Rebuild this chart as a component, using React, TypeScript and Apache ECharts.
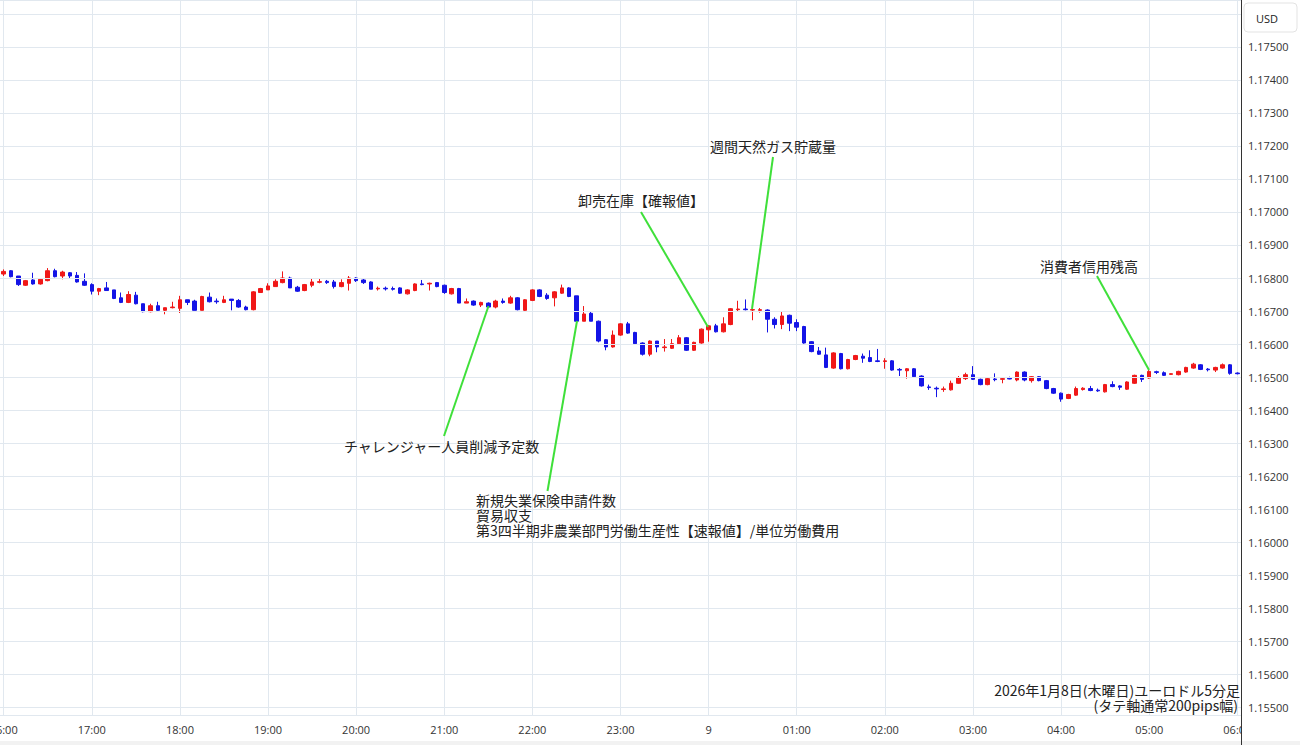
import React, { useEffect, useRef } from "react";
import * as echarts from "echarts";

// 5-minute candles from 16:00 to 06:00 (2026-01-08 EUR/USD)
const openValues = [
  1.16812, 1.16822, 1.16806, 1.16778, 1.16794, 1.16782, 1.16792, 1.16822, 1.16806, 1.16816, 1.16808, 1.1679,
  1.1678, 1.1676, 1.1677, 1.16764, 1.1674, 1.16726, 1.16748, 1.16722, 1.16698, 1.16716, 1.16702, 1.1671,
  1.16708, 1.16734, 1.1673, 1.16702, 1.16742, 1.1673, 1.16726, 1.16736, 1.16732, 1.16712, 1.16704, 1.16756,
  1.16764, 1.16774, 1.16786, 1.168, 1.16772, 1.16762, 1.16778, 1.16787, 1.1679, 1.16788, 1.16774, 1.16784,
  1.168, 1.16794, 1.16788, 1.16767, 1.16769, 1.16768, 1.1677, 1.16752, 1.16762, 1.16782, 1.16782, 1.16786,
  1.16778, 1.16752, 1.16768, 1.16724, 1.1673, 1.16718, 1.16724, 1.16712, 1.1673, 1.16724, 1.1674, 1.16702,
  1.16732, 1.16764, 1.16748, 1.1674, 1.16754, 1.1677, 1.16746, 1.16669, 1.16693, 1.16669, 1.16613, 1.16591,
  1.16627, 1.16661, 1.16635, 1.16603, 1.16569, 1.16609, 1.16589, 1.16587, 1.16601, 1.16619, 1.16581, 1.16603,
  1.16643, 1.16655, 1.16637, 1.16659, 1.16704, 1.16706, 1.16703, 1.16702, 1.16703, 1.16675, 1.16659, 1.16687,
  1.16665, 1.16653, 1.16607, 1.16579, 1.16567, 1.16527, 1.16571, 1.16525, 1.16553, 1.16563, 1.16559, 1.16549,
  1.16547, 1.16549, 1.16523, 1.16519, 1.16525, 1.16503, 1.1647, 1.16466, 1.16462, 1.16461, 1.16481, 1.16495,
  1.16507, 1.16493, 1.16477, 1.16494, 1.16493, 1.16496, 1.16491, 1.16515, 1.16489, 1.16501, 1.16489, 1.16465,
  1.16451, 1.16435, 1.16445, 1.16462, 1.16465, 1.1646, 1.16455, 1.16477, 1.16473, 1.16463, 1.16481, 1.16505,
  1.16497, 1.16516, 1.16513, 1.16508, 1.16507, 1.16515, 1.16527, 1.16537, 1.16524, 1.16521, 1.16527, 1.16537,
  1.16512,
];
const closeValues = [
  1.1682, 1.16804, 1.1678, 1.16792, 1.16782, 1.16796, 1.16822, 1.16804, 1.16818, 1.16806, 1.16788, 1.16778,
  1.1676, 1.16768, 1.16762, 1.16738, 1.16726, 1.1675, 1.16722, 1.16698, 1.16716, 1.16702, 1.1671, 1.16712,
  1.16734, 1.16726, 1.16702, 1.16744, 1.16728, 1.16728, 1.16734, 1.16732, 1.16712, 1.16704, 1.16758, 1.16768,
  1.16776, 1.1679, 1.168, 1.1677, 1.1676, 1.1678, 1.16788, 1.16789, 1.16786, 1.16774, 1.16786, 1.168,
  1.16792, 1.16786, 1.16766, 1.16769, 1.16767, 1.16766, 1.16754, 1.16764, 1.16782, 1.1678, 1.16784, 1.16774,
  1.16756, 1.16768, 1.16724, 1.16728, 1.16718, 1.16726, 1.16712, 1.1673, 1.16726, 1.1674, 1.16704, 1.16734,
  1.16764, 1.16744, 1.16738, 1.16758, 1.1677, 1.16744, 1.16669, 1.16691, 1.16669, 1.16609, 1.16591, 1.16627,
  1.16661, 1.16633, 1.16601, 1.16569, 1.16609, 1.16591, 1.16591, 1.16601, 1.16619, 1.16581, 1.16605, 1.16645,
  1.16655, 1.16637, 1.16661, 1.16707, 1.16706, 1.16704, 1.16704, 1.16704, 1.16675, 1.16659, 1.16685, 1.16663,
  1.16651, 1.16603, 1.16577, 1.16569, 1.16529, 1.16573, 1.16525, 1.16553, 1.16565, 1.16557, 1.16547, 1.16547,
  1.16549, 1.16521, 1.16521, 1.16525, 1.16501, 1.16473, 1.16468, 1.16464, 1.16464, 1.16481, 1.16497, 1.16507,
  1.16493, 1.16477, 1.16495, 1.16492, 1.16495, 1.16494, 1.16515, 1.16491, 1.16501, 1.16489, 1.16465, 1.16451,
  1.16433, 1.16447, 1.16465, 1.16466, 1.16459, 1.16458, 1.16477, 1.16471, 1.16469, 1.16485, 1.16505, 1.16493,
  1.16517, 1.16514, 1.16505, 1.1651, 1.16517, 1.16529, 1.16539, 1.16523, 1.16522, 1.16529, 1.16537, 1.16511,
  1.1651,
];
const lowValues = [
  1.16806, 1.16802, 1.16776, 1.16776, 1.1678, 1.1678, 1.1679, 1.16802, 1.16796, 1.168, 1.16786, 1.16776,
  1.1675, 1.16748, 1.16762, 1.16736, 1.16724, 1.16724, 1.1672, 1.16696, 1.16696, 1.16698, 1.1669, 1.16708,
  1.16694, 1.16718, 1.16702, 1.16702, 1.16726, 1.16722, 1.16724, 1.16702, 1.1671, 1.16702, 1.16702, 1.16756,
  1.16764, 1.16774, 1.16784, 1.1677, 1.16758, 1.1676, 1.16772, 1.16784, 1.16782, 1.16768, 1.16772, 1.16762,
  1.16788, 1.16782, 1.16766, 1.16762, 1.16762, 1.16762, 1.16752, 1.1675, 1.1676, 1.16778, 1.16762, 1.16772,
  1.16752, 1.1675, 1.16724, 1.16724, 1.16716, 1.16712, 1.16712, 1.16708, 1.16722, 1.16722, 1.16702, 1.16698,
  1.1673, 1.16742, 1.16734, 1.16714, 1.16752, 1.16742, 1.16669, 1.16669, 1.16669, 1.16605, 1.16581, 1.16589,
  1.16625, 1.16631, 1.16599, 1.16565, 1.16563, 1.16575, 1.16577, 1.16585, 1.16599, 1.16579, 1.16579, 1.16601,
  1.16607, 1.16635, 1.16635, 1.16657, 1.16697, 1.16702, 1.16672, 1.16695, 1.16635, 1.16647, 1.16645, 1.16639,
  1.16639, 1.16601, 1.16575, 1.16567, 1.16527, 1.16525, 1.16523, 1.16523, 1.16551, 1.16543, 1.16545, 1.16545,
  1.16525, 1.16519, 1.16503, 1.16495, 1.16499, 1.16471, 1.16461, 1.16439, 1.16455, 1.16459, 1.16479, 1.16491,
  1.16491, 1.16475, 1.16475, 1.16487, 1.16481, 1.16493, 1.16487, 1.16487, 1.16483, 1.16487, 1.16463, 1.16449,
  1.16425, 1.16433, 1.16443, 1.16459, 1.16457, 1.16455, 1.16453, 1.16469, 1.16461, 1.16461, 1.16479, 1.16485,
  1.16495, 1.16509, 1.16503, 1.16507, 1.16505, 1.16513, 1.16525, 1.16521, 1.16517, 1.16515, 1.16525, 1.16507,
  1.16508,
];
const highValues = [
  1.16826, 1.16824, 1.16806, 1.16794, 1.16816, 1.168, 1.1683, 1.16828, 1.16822, 1.16818, 1.16818, 1.16814,
  1.16784, 1.1677, 1.16788, 1.16764, 1.16756, 1.1676, 1.16758, 1.16722, 1.16722, 1.16728, 1.1671, 1.16728,
  1.16746, 1.16734, 1.16734, 1.16746, 1.16756, 1.16738, 1.16746, 1.16736, 1.16736, 1.16716, 1.1676, 1.1677,
  1.16784, 1.16796, 1.1682, 1.16804, 1.16776, 1.16782, 1.16798, 1.16798, 1.16794, 1.16794, 1.16796, 1.16806,
  1.16802, 1.16798, 1.1679, 1.16774, 1.16774, 1.16774, 1.16772, 1.16766, 1.16784, 1.16794, 1.16786, 1.16788,
  1.1678, 1.1677, 1.1677, 1.16738, 1.16732, 1.16728, 1.16726, 1.16734, 1.16738, 1.16746, 1.16742, 1.16736,
  1.16766, 1.16766, 1.16754, 1.1676, 1.1678, 1.16772, 1.16746, 1.16715, 1.16697, 1.16671, 1.16615, 1.16641,
  1.16663, 1.16667, 1.16637, 1.16605, 1.16611, 1.16609, 1.16615, 1.16615, 1.16627, 1.16621, 1.16607, 1.16647,
  1.16657, 1.16661, 1.16681, 1.16709, 1.16731, 1.16735, 1.16708, 1.16709, 1.16705, 1.16681, 1.16699, 1.16689,
  1.16675, 1.16655, 1.16609, 1.16591, 1.16589, 1.16575, 1.16573, 1.16555, 1.16567, 1.16571, 1.16581, 1.16585,
  1.16557, 1.16551, 1.16527, 1.16527, 1.16527, 1.16505, 1.16477, 1.16471, 1.16471, 1.16489, 1.16503, 1.16513,
  1.16533, 1.16495, 1.16497, 1.16511, 1.16497, 1.16501, 1.16517, 1.16517, 1.16503, 1.16503, 1.16491, 1.16467,
  1.16453, 1.16449, 1.16471, 1.16469, 1.16473, 1.16465, 1.16479, 1.16487, 1.16475, 1.16487, 1.16507, 1.16507,
  1.16523, 1.16519, 1.16517, 1.16511, 1.16519, 1.16531, 1.16543, 1.16539, 1.16527, 1.16531, 1.16541, 1.16539,
  1.16514,
];

const hourLabels = [
  "16:00", "17:00", "18:00", "19:00", "20:00", "21:00", "22:00", "23:00",
  "00:00", "01:00", "02:00", "03:00", "04:00", "05:00", "06:00",
];
const startHour = 16;
const candleMinutes = 5;

const yMin = 1.154758;
const yMax = 1.176424;
const yLabelMin = 1.155;
const yLabelMax = 1.175;

const titleLine1 = "2026年1月8日(木曜日)ユーロドル5分足";
const titleLine2 = "(タテ軸通常200pips幅)";

const RED = "#f01818";
const BLUE = "#1414e6";
const GREEN = "#3fe03a";
const GRID = "#e1e8ef";
const JP_FONT = '"Noto Sans CJK JP", "Noto Sans", sans-serif';

function buildCategories(n: number): string[] {
  const out: string[] = [];
  for (let i = 0; i < n; i++) {
    const total = startHour * 60 + i * candleMinutes;
    const h = Math.floor(total / 60) % 24;
    const m = total % 60;
    out.push(String(h).padStart(2, "0") + ":" + String(m).padStart(2, "0"));
  }
  return out;
}

export default function App() {
  const ref = useRef<HTMLDivElement>(null);

  useEffect(() => {
    if (!ref.current) return;
    const chart = echarts.init(ref.current, undefined, { renderer: "svg" });
    const categories = buildCategories(openValues.length);
    const candles = openValues.map((o, i) => [o, closeValues[i], lowValues[i], highValues[i]]);
    const isHour = (_idx: number, value: string) => hourLabels.indexOf(value) >= 0;

    const ann = (text: string, x: number, y: number, align: string = "left") => ({
      type: "text",
      x,
      y,
      z: 50,
      style: {
        text,
        fill: "#222",
        font: `14px ${JP_FONT}`,
        textAlign: align,
        textVerticalAlign: "middle",
        lineHeight: 15,
      },
    });
    const gline = (x1: number, y1: number, x2: number, y2: number) => ({
      type: "line",
      z: 40,
      shape: { x1, y1, x2, y2 },
      style: { stroke: GREEN, lineWidth: 2 },
    });

    chart.setOption({
      animation: false,
      backgroundColor: "#ffffff",
      grid: {
        left: 0,
        right: 59,
        top: 0,
        bottom: 30,
        containLabel: false,
        outerBoundsMode: "none",
      },
      xAxis: {
        type: "category",
        data: categories,
        boundaryGap: true,
        axisLine: { show: true, lineStyle: { color: "#444", width: 1 } },
        axisTick: { show: false },
        splitLine: { show: false },
        axisLabel: {
          interval: isHour,
          formatter: (v: string) => (v === "00:00" ? "9" : v),
          color: "#333",
          fontSize: 11,
          fontFamily: '"Open Sans", "Noto Sans", sans-serif',
          margin: 9,
          hideOverlap: false,
        },
      },
      yAxis: {
        type: "value",
        position: "right",
        min: yMin,
        max: yMax,
        minInterval: 0.001,
        maxInterval: 0.001,
        splitNumber: 22,
        z: 10,
        axisLine: { show: true, lineStyle: { color: "#333", width: 1 } },
        axisTick: { show: false },
        splitLine: { show: true, lineStyle: { color: GRID, width: 1 } },
        axisLabel: {
          showMinLabel: false,
          showMaxLabel: false,
          color: "#333",
          fontSize: 11,
          fontFamily: '"Open Sans", "Noto Sans", sans-serif',
          margin: 7,
          formatter: (v: number) => {
            const k = v * 1000;
            if (Math.abs(k - Math.round(k)) > 1e-6) return "";
            if (v < yLabelMin - 1e-7 || v > yLabelMax + 1e-7) return "";
            return v.toFixed(5);
          },
        },
      },
      series: [
        {
          type: "candlestick",
          data: candles,
          barWidth: 4,
          itemStyle: {
            color: RED,
            color0: BLUE,
            borderColor: RED,
            borderColor0: BLUE,
            borderWidth: 1,
          },
          markLine: {
            silent: true,
            symbol: ["none", "none"],
            label: { show: false },
            lineStyle: { color: GRID, width: 1, type: "solid" },
            z: 0,
            data: hourLabels.map((h) => ({ xAxis: h })),
          },
        },
      ],
      graphic: [
        {
          type: "rect",
          z: 100,
          shape: { x: 1241, y: 716, width: 59, height: 29 },
          style: { fill: "#ffffff" },
        },
        {
          type: "rect",
          z: 101,
          shape: { x: 0, y: 741, width: 1300, height: 4 },
          style: { fill: "#f2f2f2" },
        },
        {
          type: "line",
          z: 102,
          shape: { x1: 1241.5, y1: 715, x2: 1241.5, y2: 745 },
          style: { stroke: "#333", lineWidth: 1 },
        },
        {
          type: "rect",
          z: 100,
          shape: { x: 1244, y: 3, width: 53, height: 29, r: 4 },
          style: { fill: "#ffffff", stroke: "#e3e3e3", lineWidth: 1 },
        },
        {
          type: "text",
          z: 101,
          x: 1256,
          y: 18,
          style: {
            text: "USD",
            fill: "#222",
            font: '11px "Open Sans", "Noto Sans", sans-serif',
            textVerticalAlign: "middle",
          },
        },
        gline(444, 436, 488.5, 306),
        gline(547.5, 491, 577, 321),
        gline(641, 212, 708, 327),
        gline(773, 157, 752, 309),
        gline(1097, 276, 1149, 370),
        ann("チャレンジャー人員削減予定数", 344, 446),
        ann("新規失業保険申請件数\n貿易収支\n第3四半期非農業部門労働生産性【速報値】/単位労働費用", 476, 515),
        ann("卸売在庫【確報値】", 578, 200),
        ann("週間天然ガス貯蔵量", 710, 146),
        ann("消費者信用残高", 1040, 266),
        ann(titleLine1, 1240, 690, "right"),
        ann(titleLine2, 1238, 705, "right"),
      ],
    });

    return () => chart.dispose();
  }, []);

  return (
    <div
      ref={ref}
      style={{ position: "fixed", left: 0, top: 0, width: 1300, height: 745, background: "#fff" }}
    />
  );
}
